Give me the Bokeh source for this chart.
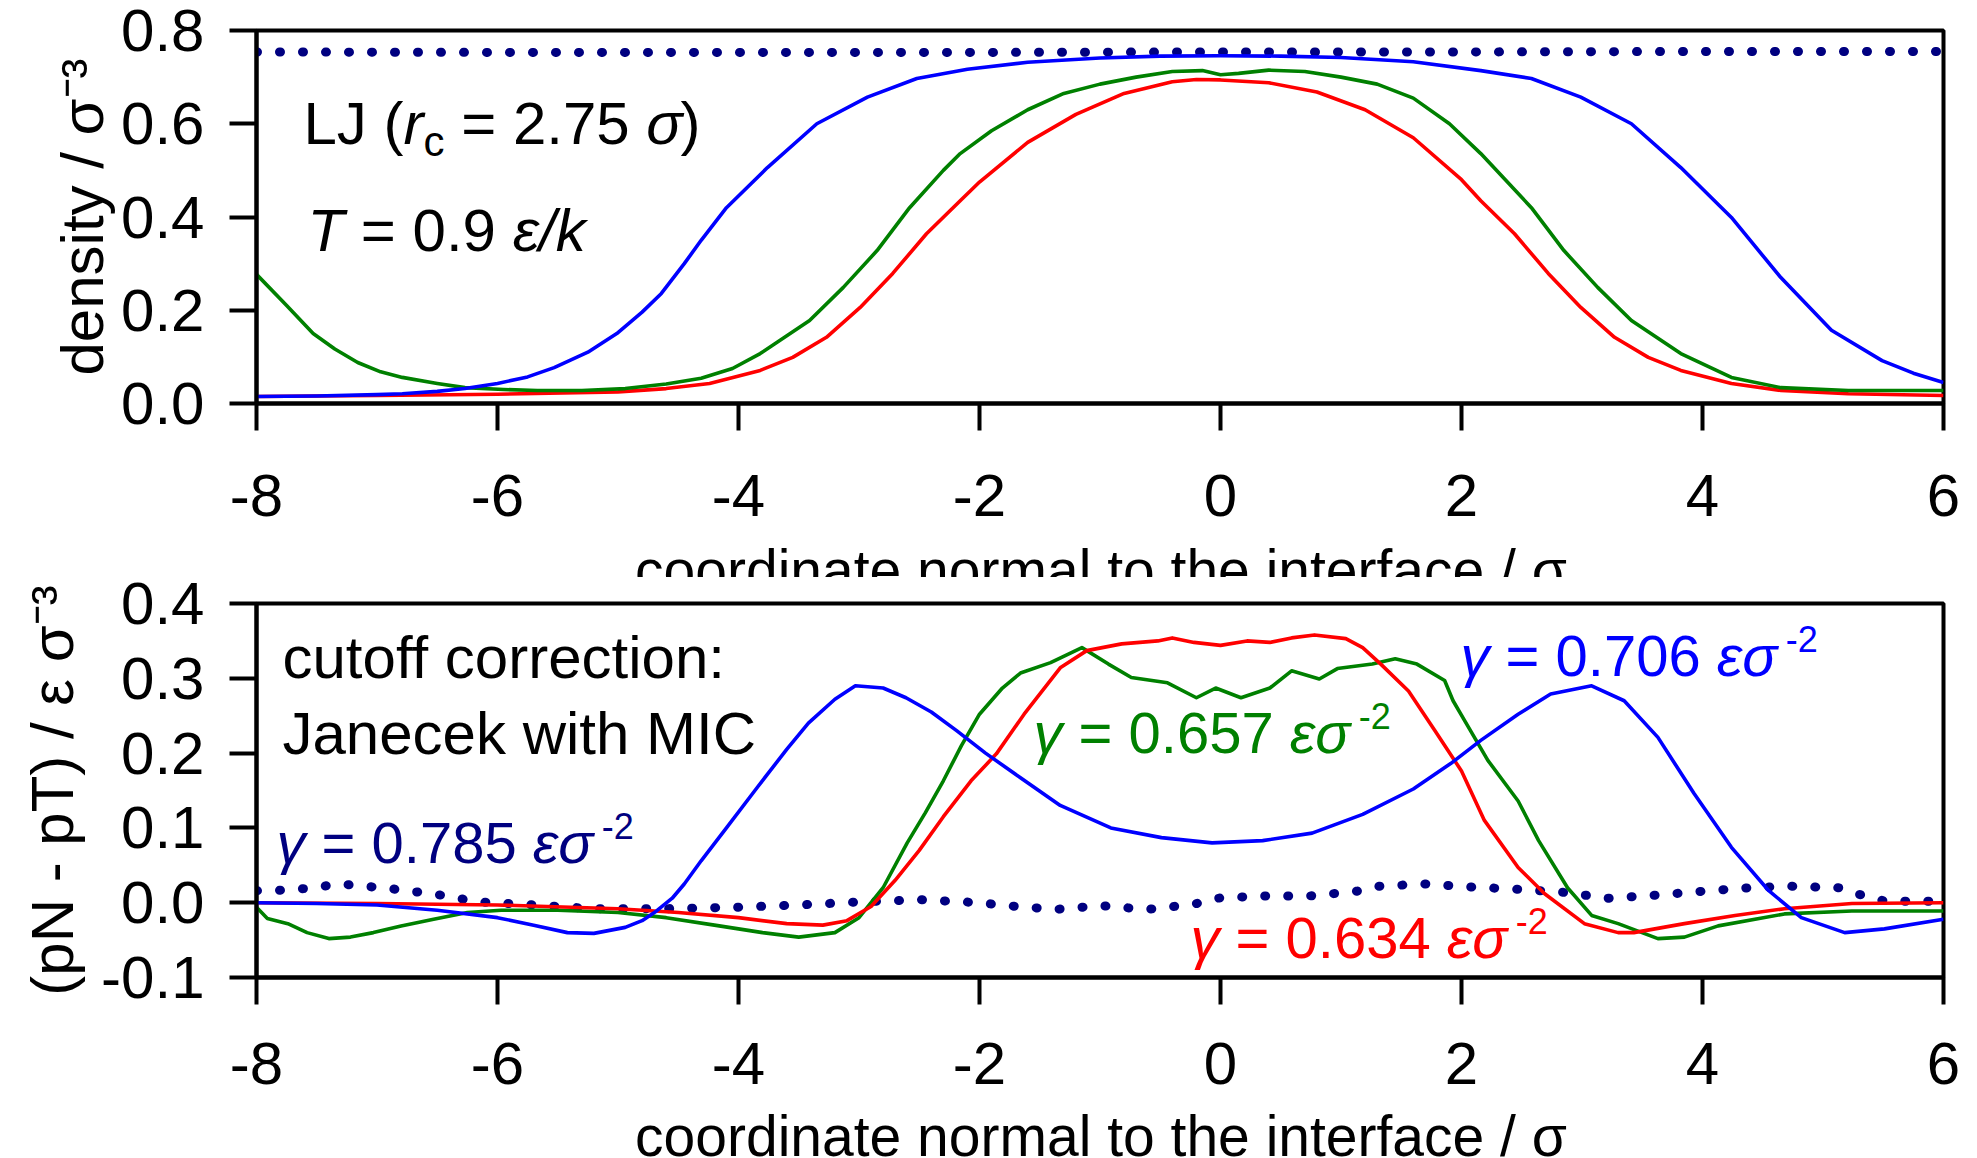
import numpy as np
from bokeh.plotting import figure
from bokeh.models import Range1d, FixedTicker, Label, PrintfTickFormatter
from bokeh.layouts import column, row
from bokeh.embed import file_html
from bokeh.resources import INLINE

FONT = "Liberation Sans"

# ---------------- data: density profiles (top panel) ----------------
x_ticks = [-8, -6, -4, -2, 0, 2, 4, 6]
dens_ticks = [0.0, 0.2, 0.4, 0.6, 0.8]
pres_ticks = [-0.1, 0.0, 0.1, 0.2, 0.3, 0.4]

dens_dot_x = [-8, -6, -4, -2, 0, 2, 4, 6]
dens_dot_y = [0.754, 0.753, 0.753, 0.753, 0.754, 0.754, 0.755, 0.755]

dens_blue_x = [-8, -7.5, -7, -6.79, -6.5, -6.27, -6.0, -5.75, -5.53, -5.25, -5.01, -4.8, -4.64, -4.45,
               -4.31, -4.1, -3.76, -3.35, -2.93, -2.52, -2.1, -1.6, -1.0, -0.5, 0, 0.5, 1.0, 1.6, 2.16,
               2.58, 2.99, 3.41, 3.82, 4.24, 4.65, 5.07, 5.49, 5.75, 6.0]
dens_blue_y = [0.015, 0.016, 0.019, 0.021, 0.026, 0.032, 0.043, 0.057, 0.077, 0.11, 0.15, 0.196, 0.236, 0.3,
               0.35, 0.42, 0.506, 0.6, 0.657, 0.697, 0.717, 0.732, 0.741, 0.745, 0.746, 0.745, 0.742, 0.733,
               0.714, 0.697, 0.657, 0.600, 0.506, 0.399, 0.27, 0.157, 0.092, 0.065, 0.045]

dens_green_x = [-8, -7.75, -7.53, -7.35, -7.16, -6.97, -6.79, -6.5, -6.27, -5.95, -5.67, -5.3, -4.94, -4.6,
                -4.31, -4.05, -3.82, -3.41, -3.13, -2.85, -2.58, -2.3, -2.16, -1.9, -1.6, -1.3, -1.0, -0.7,
                -0.4, -0.15, 0, 0.15, 0.4, 0.7, 1.0, 1.3, 1.6, 1.9, 2.16, 2.58, 2.85, 3.13, 3.41, 3.82, 4.24,
                4.65, 5.21, 6.0]
dens_green_y = [0.277, 0.21, 0.15, 0.117, 0.088, 0.068, 0.056, 0.043, 0.034, 0.03, 0.028, 0.028, 0.032, 0.042,
                0.054, 0.075, 0.107, 0.178, 0.249, 0.328, 0.42, 0.5, 0.536, 0.585, 0.63, 0.665, 0.685, 0.7,
                0.712, 0.714, 0.705, 0.708, 0.715, 0.712, 0.7, 0.685, 0.655, 0.6, 0.536, 0.42, 0.328, 0.249,
                0.178, 0.107, 0.056, 0.034, 0.028, 0.028]

dens_red_x = [-8, -7, -6, -5, -4.6, -4.24, -3.82, -3.55, -3.27, -2.99, -2.72, -2.44, -2.16, -2.0, -1.6, -1.2,
              -0.8, -0.4, -0.2, 0, 0.4, 0.8, 1.2, 1.6, 2.0, 2.16, 2.44, 2.72, 2.99, 3.27, 3.55, 3.82, 4.24,
              4.65, 5.21, 6.0]
dens_red_y = [0.015, 0.017, 0.02, 0.025, 0.032, 0.043, 0.071, 0.099, 0.142, 0.206, 0.279, 0.364, 0.435, 0.475,
              0.56, 0.62, 0.665, 0.69, 0.695, 0.694, 0.688, 0.668, 0.63, 0.57, 0.48, 0.435, 0.364, 0.279,
              0.206, 0.142, 0.099, 0.071, 0.043, 0.028, 0.021, 0.017]

# ---------------- data: pressure tensor difference (bottom panel) ----------------
pres_dot_x = [-8, -7.7, -7.3, -6.9, -6.5, -6.16, -5.8, -5.2, -4.6, -4.0, -3.5, -3.0, -2.5, -2.0, -1.77, -1.37,
              -0.99, -0.61, -0.22, -0.03, 0.35, 0.74, 1.12, 1.31, 1.7, 2.08, 2.46, 2.84, 3.22, 3.61, 3.98,
              4.39, 4.74, 5.14, 5.34, 5.52, 5.91, 6.0]
pres_dot_y = [0.016, 0.017, 0.025, 0.019, 0.011, 0.001, -0.002, -0.008, -0.008, -0.006, -0.003, 0.001, 0.004,
              0.0, -0.004, -0.009, -0.004, -0.009, -0.002, 0.006, 0.009, 0.009, 0.015, 0.022, 0.025, 0.021,
              0.018, 0.014, 0.006, 0.01, 0.015, 0.02, 0.022, 0.02, 0.009, 0.002, 0.002, 0.003]

pres_blue_x = [-8, -7.5, -7, -6.5, -6.0, -5.7, -5.42, -5.2, -4.94, -4.8, -4.68, -4.55, -4.45, -4.31, -4.1,
               -3.84, -3.6, -3.42, -3.2, -3.03, -2.8, -2.61, -2.4, -2.19, -1.95, -1.66, -1.33, -0.91, -0.49,
               -0.07, 0.35, 0.76, 1.18, 1.6, 1.91, 2.16, 2.47, 2.74, 3.08, 3.35, 3.63, 3.93, 4.24, 4.55, 4.82,
               5.18, 5.51, 6.0]
pres_blue_y = [0.0, -0.001, -0.003, -0.01, -0.02, -0.03, -0.04, -0.041, -0.033, -0.024, -0.011, 0.006, 0.025,
               0.056, 0.1, 0.155, 0.205, 0.24, 0.272, 0.29, 0.287, 0.274, 0.255, 0.23, 0.2, 0.167, 0.13, 0.1,
               0.087, 0.08, 0.083, 0.093, 0.118, 0.152, 0.186, 0.217, 0.252, 0.279, 0.29, 0.27, 0.221, 0.146,
               0.074, 0.016, -0.02, -0.04, -0.035, -0.022]

pres_green_x = [-8, -7.91, -7.74, -7.58, -7.4, -7.22, -7.03, -6.8, -6.53, -6.25, -5.97, -5.5, -5.0, -4.6, -4.2,
                -3.8, -3.5, -3.2, -3.0, -2.8, -2.6, -2.45, -2.3, -2.15, -2.0, -1.81, -1.66, -1.41, -1.15, -0.93,
                -0.74, -0.44, -0.2, -0.04, 0.17, 0.41, 0.59, 0.82, 0.97, 1.26, 1.45, 1.63, 1.86, 1.93, 2.02,
                2.22, 2.47, 2.64, 2.88, 3.08, 3.3, 3.63, 3.85, 4.13, 4.68, 5.24, 6.0]
pres_green_y = [-0.006, -0.021, -0.028, -0.04, -0.048, -0.046, -0.04, -0.031, -0.022, -0.013, -0.01, -0.01,
                -0.013, -0.02, -0.03, -0.04, -0.046, -0.04, -0.02, 0.02, 0.08, 0.12, 0.163, 0.21, 0.252, 0.287,
                0.307, 0.321, 0.341, 0.319, 0.301, 0.294, 0.274, 0.287, 0.274, 0.287, 0.31, 0.299, 0.313, 0.319,
                0.326, 0.319, 0.297, 0.27, 0.245, 0.19, 0.136, 0.083, 0.02, -0.017, -0.028, -0.048, -0.046,
                -0.031, -0.015, -0.011, -0.011]

pres_red_x = [-8, -7, -6, -5, -4.5, -4.0, -3.6, -3.3, -3.1, -2.9, -2.7, -2.5, -2.3, -2.07, -1.86, -1.63, -1.33,
              -1.11, -0.82, -0.52, -0.4, -0.22, 0.0, 0.22, 0.41, 0.59, 0.78, 1.04, 1.18, 1.33, 1.56, 1.78, 2.0,
              2.19, 2.47, 2.69, 3.02, 3.3, 3.43, 3.85, 4.27, 4.68, 5.24, 6.0]
pres_red_y = [0.0, -0.001, -0.003, -0.008, -0.013, -0.02, -0.028, -0.03, -0.024, -0.005, 0.03, 0.07, 0.115,
              0.163, 0.199, 0.252, 0.314, 0.337, 0.346, 0.35, 0.354, 0.348, 0.344, 0.35, 0.348, 0.354, 0.358,
              0.353, 0.341, 0.319, 0.283, 0.23, 0.176, 0.11, 0.047, 0.012, -0.028, -0.04, -0.04, -0.028,
              -0.017, -0.008, -0.001, 0.0]

gamma_labels = ["0.785", "0.706", "0.657", "0.634"]
dens_title = "density / σ⁻³"
pres_title = "(pN - pT) / ε σ⁻³"
x_title = "coordinate normal to the interface / σ"

RED, GREEN, BLUE, NAVY = "#FF0000", "#008000", "#0000FF", "#000080"

# ---------------- layout geometry (page pixels) ----------------
W_TOTAL = 1977
FRAME_L, FRAME_W = 256, 1687
X0, X1 = -8, 6
BASE_FIX = -20   # correction of the label anchor (towards the text's top)

WID = {' ': .278, '(': .333, ')': .333, '-': .333, '.': .278, '/': .278, ':': .278, '=': .584,
       'a': .556, 'b': .556, 'c': .5, 'd': .556, 'e': .556, 'f': .278, 'g': .556, 'h': .556, 'i': .222,
       'j': .222, 'k': .5, 'l': .222, 'm': .833, 'n': .556, 'o': .556, 'p': .556, 'r': .333, 's': .5,
       't': .278, 'u': .556, 'w': .722, 'y': .5, 'C': .722, 'I': .278, 'J': .5, 'L': .556, 'M': .833,
       'N': .722, 'T': .611, 'γ': .5, 'ε': .446, 'σ': .569}
for d in "0123456789":
    WID[d] = .556


def tw(s, size):
    return sum(WID.get(ch, .556) for ch in s) * size


def make_fig(height, top, bottom, y0, y1, yticks, ytitle, title_standoff):
    p = figure(width=W_TOTAL, height=height, x_range=Range1d(X0, X1), y_range=Range1d(y0, y1),
               output_backend="svg", toolbar_location=None,
               min_border_left=FRAME_L, min_border_right=W_TOTAL - FRAME_L - FRAME_W,
               min_border_top=top, min_border_bottom=bottom)
    p.grid.visible = False
    p.outline_line_color = "black"
    p.outline_line_width = 4
    p.background_fill_color = "white"
    p.border_fill_color = "white"
    for ax in (p.xaxis[0], p.yaxis[0]):
        ax.axis_line_width = 4
        ax.major_tick_line_width = 4
        ax.major_tick_out = 27
        ax.major_tick_in = 0
        ax.minor_tick_line_color = None
        ax.major_label_text_font = FONT
        ax.major_label_text_font_size = "60px"
        ax.major_label_text_color = "black"
    p.xaxis.ticker = FixedTicker(ticks=x_ticks)
    p.xaxis.formatter = PrintfTickFormatter(format="%d")
    p.yaxis.ticker = FixedTicker(ticks=yticks)
    p.yaxis.formatter = PrintfTickFormatter(format="%.1f")
    p.yaxis.major_label_standoff = 25
    p.yaxis.axis_label = ytitle
    p.yaxis.axis_label_text_font = FONT
    p.yaxis.axis_label_text_font_size = "60px"
    p.yaxis.axis_label_text_font_style = "normal"
    p.yaxis.axis_label_text_color = "black"
    p.yaxis.axis_label_standoff = title_standoff
    fh = height - top - bottom

    def conv(px, py):  # pixel (x from page left, y from figure top) -> data
        x = X0 + (px - FRAME_L) / FRAME_W * (X1 - X0)
        y = y1 - (py - top) / fh * (y1 - y0)
        return x, y
    return p, conv


def make_strip(height, baseline, text):
    # thin strip below a panel that shows the (partly cut) x-axis title
    p = figure(width=W_TOTAL, height=height, x_range=Range1d(0, W_TOTAL), y_range=Range1d(0, height),
               output_backend="svg", toolbar_location=None, min_border=0,
               x_axis_location=None, y_axis_location=None)
    p.grid.visible = False
    p.outline_line_color = None
    p.background_fill_color = "white"
    p.border_fill_color = "white"
    cx = 636 + tw(text, 57) / 2.0
    p.add_layout(Label(x=cx, y=height - (baseline + BASE_FIX), text=text, text_font=FONT,
                       text_font_size="57px", text_color="black",
                       text_align="center", text_baseline="alphabetic"))
    return p


def rich(p, conv, px, py, pieces, color="black"):
    adv = 0.0
    for piece in pieces:
        txt, size, style, shift = piece
        vis = txt.strip(" ")
        lead = len(txt) - len(txt.lstrip(" "))
        a = adv + lead * WID[' '] * size
        x, y = conv(px + a, py + shift + BASE_FIX)
        p.add_layout(Label(x=x, y=y, text=vis, text_font=FONT, text_font_size=f"{size}px",
                           text_font_style=style, text_color=color,
                           text_align="left", text_baseline="alphabetic"))
        adv += tw(txt, size)


def curve(p, xs, ys, color, dotted=False):
    if dotted:
        p.line(xs, ys, line_color=color, line_width=9, line_dash="1 22", line_cap="round")
    else:
        p.line(xs, ys, line_color=color, line_width=3.6, line_join="round")


# ---------------- top panel ; then clipped x-title strip ----------------
ROW1_H = 547
p1, c1 = make_fig(ROW1_H, 30, 144, 0.0, 0.8, dens_ticks, dens_title, 2)
p1.xaxis.major_label_standoff = 44
curve(p1, dens_dot_x, dens_dot_y, NAVY, dotted=True)
curve(p1, dens_red_x, dens_red_y, RED)
curve(p1, dens_green_x, dens_green_y, GREEN)
curve(p1, dens_blue_x, dens_blue_y, BLUE)
rich(p1, c1, 303, 143, [("LJ (", 60, "normal", 0), ("r", 60, "italic", 0), ("c", 42, "normal", 18),
                        (" = 2.75 ", 60, "normal", 0), ("σ", 60, "italic", 0), (")", 60, "normal", 0)])
rich(p1, c1, 307, 250, [("T", 60, "italic", 0), (" = 0.9 ", 60, "normal", 0), ("ε/k", 60, "italic", 0)])

st1 = make_strip(577 - ROW1_H, 589 - ROW1_H, x_title)

# ---------------- bottom panel ----------------
ROW2_H = 536
p2, c2 = make_fig(ROW2_H, 26, 136, -0.1, 0.4, pres_ticks, pres_title, 12)
p2.xaxis.major_label_standoff = 38
curve(p2, pres_dot_x, pres_dot_y, NAVY, dotted=True)
curve(p2, pres_green_x, pres_green_y, GREEN)
curve(p2, pres_red_x, pres_red_y, RED)
curve(p2, pres_blue_x, pres_blue_y, BLUE)
rich(p2, c2, 282, 100, [("cutoff correction:", 60, "normal", 0)])
rich(p2, c2, 282, 176, [("Janecek with MIC", 60, "normal", 0)])


def gamma(px, py, val, color):
    rich(p2, c2, px, py, [("γ", 58, "italic", 0), (f" = {val} ", 58, "normal", 0), ("εσ", 58, "italic", 0),
                          (" -2", 36, "normal", -17)], color=color)


gamma(276, 285, gamma_labels[0], NAVY)
gamma(1460, 98, gamma_labels[1], BLUE)
gamma(1033, 175, gamma_labels[2], GREEN)
gamma(1190, 380, gamma_labels[3], RED)

st2 = make_strip(1158 - 577 - ROW2_H, 1155 - 577 - ROW2_H, x_title)

layout = column(row(p1, spacing=0), st1, row(p2, spacing=0), st2, spacing=0)
open("out.html", "w").write(file_html(layout, INLINE))
